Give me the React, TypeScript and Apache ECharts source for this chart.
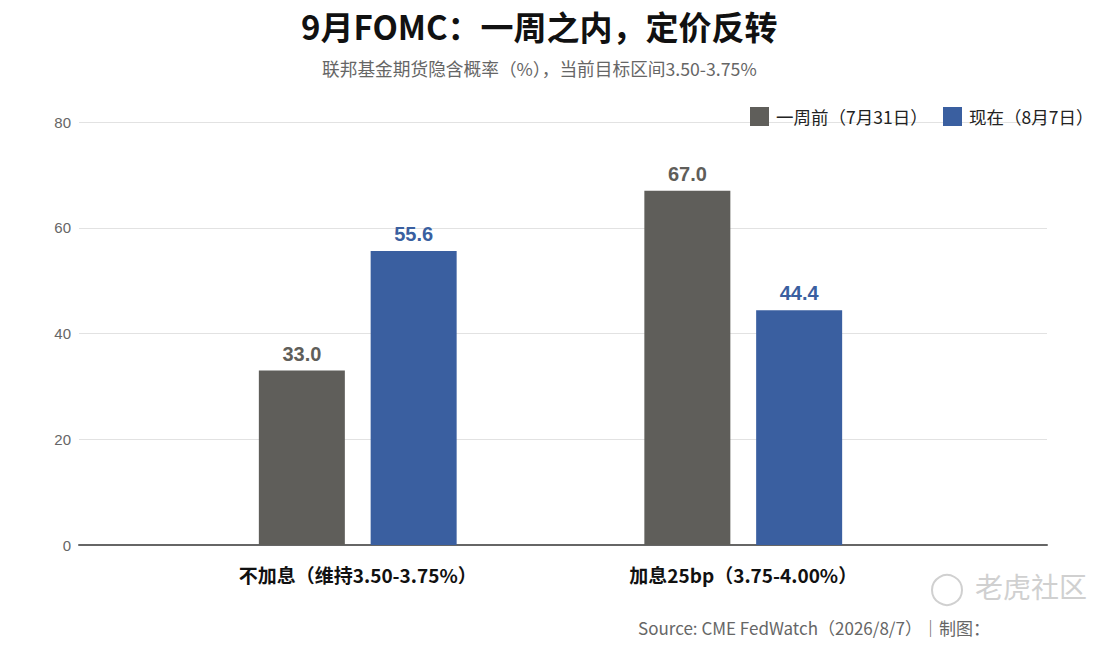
import React, { useEffect, useRef } from "react";
import * as echarts from "echarts";

const categories = ["不加息（维持3.50-3.75%）", "加息25bp（3.75-4.00%）"];
const seriesNames = ["一周前（7月31日）", "现在（8月7日）"];
const weekAgo = [33.0, 67.0];
const now = [55.6, 44.4];
const yTicks = [0, 20, 40, 60, 80];

const GRAY = "#5f5e5a";
const BLUE = "#3a5fa0";
const CJK = "'Noto Sans CJK SC', 'Noto Sans', sans-serif";
const LAT = "'Liberation Sans', Arial, sans-serif";

export default function App() {
  const ref = useRef<HTMLDivElement>(null);
  useEffect(() => {
    if (!ref.current) return;
    const chart = echarts.init(ref.current, undefined, { renderer: "svg" });
    const yMin = yTicks[0];
    const yMax = yTicks[yTicks.length - 1];
    const interval = yTicks[1] - yTicks[0];
    const label = (color: string) => ({
      show: true,
      position: "top",
      distance: 7,
      formatter: (p: any) => Number(p.value).toFixed(1),
      fontFamily: LAT,
      fontSize: 20,
      fontWeight: "bold",
      color,
    });
    const legendBase = {
      top: 107,
      padding: 0,
      itemWidth: 19,
      itemHeight: 19,
      icon: "rect",
      textStyle: { fontFamily: CJK, fontSize: 17.5, color: "#222", padding: [0, 0, 0, 2] },
    };
    chart.setOption({
      animation: false,
      backgroundColor: "#ffffff",
      title: [
        {
          text: "9月FOMC：一周之内，定价反转",
          left: 296,
          top: 4,
          textStyle: { fontFamily: CJK, fontSize: 33, fontWeight: "bold", color: "#111" },
        },
        {
          text: "联邦基金期货隐含概率（%），当前目标区间3.50-3.75%",
          left: 317,
          top: 54,
          textStyle: { fontFamily: CJK, fontSize: 17.7, fontWeight: "normal", color: "#666" },
        },
      ],
      legend: [
        { ...legendBase, left: 750, data: [seriesNames[0]] },
        { ...legendBase, left: 943, data: [seriesNames[1]] },
      ],
      grid: [
        { left: 79, right: 61, top: 122, bottom: 110 },
        { left: 165, right: 172, top: 122, bottom: 110 },
      ],
      xAxis: [
        {
          type: "category",
          gridIndex: 0,
          data: [""],
          axisLine: { show: true, lineStyle: { color: "#666", width: 2 } },
          axisTick: { show: false },
          axisLabel: { show: false },
          splitLine: { show: false },
        },
        {
          type: "category",
          gridIndex: 1,
          data: categories,
          axisLine: { show: false },
          axisTick: { show: false },
          axisLabel: {
            margin: 20,
            fontFamily: CJK,
            fontSize: 19,
            fontWeight: "bold",
            color: "#111",
          },
        },
      ],
      yAxis: [
        {
          type: "value",
          gridIndex: 0,
          min: yMin,
          max: yMax,
          interval,
          axisLine: { show: false },
          axisTick: { show: false },
          axisLabel: { fontFamily: LAT, fontSize: 15, color: "#666", margin: 8 },
          splitLine: { show: true, lineStyle: { color: "#e2e2e2", width: 1 } },
        },
        {
          type: "value",
          gridIndex: 1,
          min: yMin,
          max: yMax,
          interval,
          show: false,
          splitLine: { show: false },
        },
      ],
      series: [
        {
          name: seriesNames[0],
          type: "bar",
          xAxisIndex: 1,
          yAxisIndex: 1,
          data: weekAgo,
          barWidth: 86,
          barGap: "30%",
          itemStyle: { color: GRAY },
          label: label(GRAY),
        },
        {
          name: seriesNames[1],
          type: "bar",
          xAxisIndex: 1,
          yAxisIndex: 1,
          data: now,
          barWidth: 86,
          barGap: "30%",
          itemStyle: { color: BLUE },
          label: label(BLUE),
        },
      ],
      graphic: [
        {
          type: "text",
          left: 638,
          top: 619,
          style: {
            text: "Source: CME FedWatch（2026/8/7）｜制图：",
            fontFamily: CJK,
            fontSize: 17,
            fill: "#666",
          },
        },
        {
          type: "circle",
          shape: { cx: 947, cy: 590, r: 15 },
          style: { fill: "none", stroke: "#d0d0d0", lineWidth: 2 },
        },
        {
          type: "text",
          left: 975,
          top: 572,
          style: {
            text: "老虎社区",
            fontFamily: CJK,
            fontSize: 28,
            fill: "#d0d0d0",
          },
        },
      ],
    });
    return () => chart.dispose();
  }, []);
  return (
    <div
      ref={ref}
      style={{ position: "fixed", left: 0, top: 0, width: 1108, height: 655 }}
    />
  );
}
